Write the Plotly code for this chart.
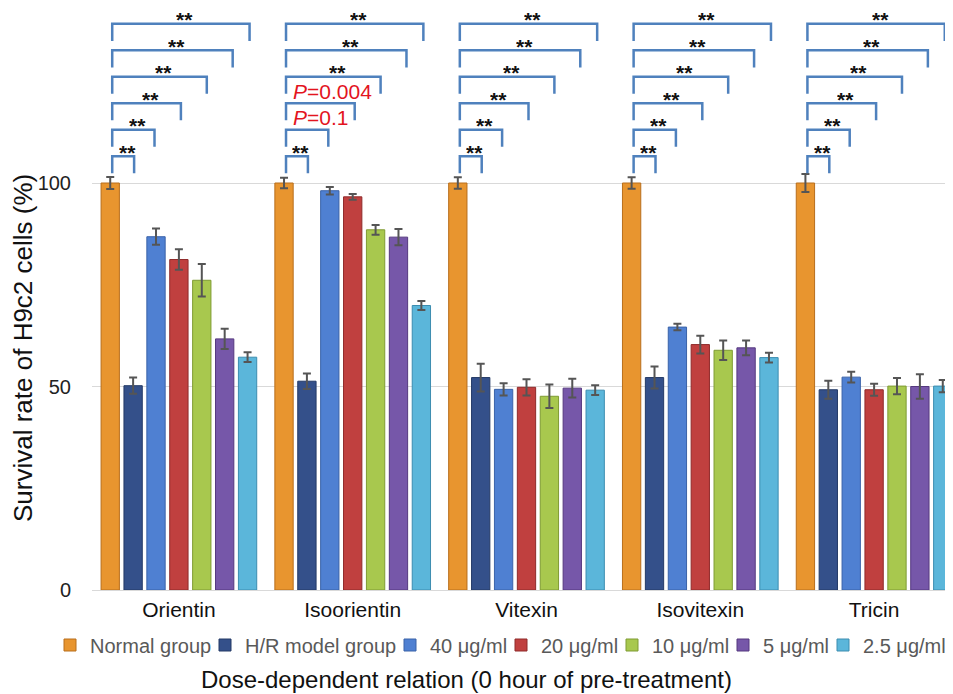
import plotly.graph_objects as go

# ---------------- data ----------------
categories = ["Orientin", "Isoorientin", "Vitexin", "Isovitexin", "Tricin"]
series_names = ["Normal group", "H/R model group", "40 μg/ml", "20 μg/ml",
                "10 μg/ml", "5 μg/ml", "2.5 μg/ml"]

normal = [100.0, 100.0, 100.0, 100.0, 100.0]
normal_err = [1.5, 1.3, 1.4, 1.4, 2.2]
model = [50.2, 51.3, 52.2, 52.2, 49.2]
model_err = [2.0, 1.9, 3.4, 2.7, 2.2]
dose40 = [86.8, 98.1, 49.3, 64.6, 52.3]
dose40_err = [2.0, 0.9, 1.5, 0.8, 1.3]
dose20 = [81.2, 96.6, 49.8, 60.3, 49.2]
dose20_err = [2.5, 0.7, 2.0, 2.2, 1.5]
dose10 = [76.1, 88.5, 47.6, 58.9, 50.1]
dose10_err = [4.0, 1.2, 2.9, 2.4, 2.0]
dose5 = [61.7, 86.7, 49.6, 59.5, 50.0]
dose5_err = [2.5, 2.0, 2.3, 1.8, 3.0]
dose2_5 = [57.2, 69.9, 49.1, 57.1, 50.1]
dose2_5_err = [1.2, 1.1, 1.2, 1.2, 1.5]

y_ticks = [0, 50, 100]

# significance of Normal group vs. each other group (model, 40, 20, 10, 5, 2.5)
sig_orientin = ["**", "**", "**", "**", "**", "**"]
sig_isoorientin = ["**", "P=0.1", "P=0.004", "**", "**", "**"]
sig_vitexin = ["**", "**", "**", "**", "**", "**"]
sig_isovitexin = ["**", "**", "**", "**", "**", "**"]
sig_tricin = ["**", "**", "**", "**", "**", "**"]

# ---------------- styles ----------------
values = [normal, model, dose40, dose20, dose10, dose5, dose2_5]
errors = [normal_err, model_err, dose40_err, dose20_err, dose10_err, dose5_err, dose2_5_err]
sig_all = [sig_orientin, sig_isoorientin, sig_vitexin, sig_isovitexin, sig_tricin]

fill_colors = ["#E8952F", "#34508A", "#4F80D2", "#C0403F", "#A8C84E", "#7657A9", "#5BB6DA"]
line_colors = ["#B86E1C", "#243A66", "#3A62A8", "#8F2A2A", "#7F9B33", "#55397F", "#3C8DB0"]

FONT = "Liberation Sans, Arial, sans-serif"
PAGE_OFF = 8  # browser body margin
W, H = 945, 686
ML, MR, MT, MB = 84, 0, 0, 104
BARGAP = 0.078
NSER = 7
X_RANGE = [-0.5, 4.454]
PX_Y = 4.07
plot_w = W - ML - MR
plot_h = H - MT - MB
Y_RANGE = [0, plot_h / PX_Y]
px_x = plot_w / (X_RANGE[1] - X_RANGE[0])


def paper_x(page_px):
    return (page_px - PAGE_OFF - ML) / plot_w


def paper_y(page_py):
    return (H - MB - (page_py - PAGE_OFF)) / plot_h


# legend symbol centres (page px) for each entry
legend_sym_x = [70, 225, 410, 521, 632, 743, 843]
legend_y = 645

fig = go.Figure()
legend_ids = ["legend"] + [f"legend{k}" for k in range(2, NSER + 1)]
for name, vals, errs, fc, lc, lid in zip(series_names, values, errors,
                                         fill_colors, line_colors, legend_ids):
    fig.add_trace(go.Bar(
        name=name, x=categories, y=vals, legend=lid,
        marker=dict(color=fc, line=dict(color=lc, width=1)),
        error_y=dict(type="data", array=errs, visible=True,
                     color="#555555", thickness=2, width=4),
    ))

# ---------------- significance brackets ----------------
slot = (1 - BARGAP) / NSER


def bar_center(i, j):
    return i + (j - (NSER - 1) / 2) * slot


LEVEL0, LEVEL_STEP, LEG = 106.6, 6.5, 4.2
right_nudge_px = [1, -1.5, 2, 5, 8, 2]
left_nudge_px = 2
bracket_color = "#4F81BD"

shapes = []
annotations = []
for i, sigs in enumerate(sig_all):
    xl = bar_center(i, 0) + left_nudge_px / px_x
    for k, lab in enumerate(sigs):
        yl = LEVEL0 + LEVEL_STEP * k
        xr = bar_center(i, k + 1) + right_nudge_px[k] / px_x
        shapes.append(dict(
            type="path", xref="x", yref="y",
            path=f"M {xl},{yl - LEG} L {xl},{yl} L {xr},{yl} L {xr},{yl - LEG}",
            line=dict(color=bracket_color, width=2.5),
        ))
        if lab.startswith("P="):
            annotations.append(dict(
                x=xl + 5 / px_x, y=yl, xref="x", yref="y",
                text="<i>P</i>" + lab[1:], showarrow=False,
                xanchor="left", yanchor="middle", yshift=12,
                font=dict(family=FONT, size=21, color="#E3141E"),
            ))
        else:
            annotations.append(dict(
                x=(xl + xr) / 2 + 4 / px_x, y=yl, xref="x", yref="y",
                text="<b>" + lab + "</b>", showarrow=False,
                xanchor="center", yanchor="middle", yshift=8,
                height=15, valign="top",
                font=dict(family=FONT, size=21, color="#111111"),
            ))

# axis titles
annotations.append(dict(
    x=paper_x(23), y=paper_y(348), xref="paper", yref="paper",
    text="Survival rate of H9c2 cells (%)", textangle=-90, showarrow=False,
    xanchor="center", yanchor="middle",
    font=dict(family=FONT, size=26, color="#111111"),
))
annotations.append(dict(
    x=paper_x(466), y=paper_y(680), xref="paper", yref="paper",
    text="Dose-dependent relation (0 hour of pre-treatment)", showarrow=False,
    xanchor="center", yanchor="middle",
    font=dict(family=FONT, size=24, color="#111111"),
))

legend_layouts = {}
for lid, sx in zip(legend_ids, legend_sym_x):
    legend_layouts[lid] = dict(
        orientation="h", x=paper_x(sx - 20), xanchor="left",
        y=paper_y(legend_y), yanchor="middle",
        font=dict(family=FONT, size=20, color="#595959"),
        itemwidth=30, bgcolor="rgba(0,0,0,0)", borderwidth=0,
    )

fig.update_layout(
    width=W, height=H,
    margin=dict(l=ML, r=MR, t=MT, b=MB, autoexpand=False),
    paper_bgcolor="white", plot_bgcolor="white",
    barmode="group", bargap=BARGAP, bargroupgap=0.2,
    font=dict(family=FONT),
    showlegend=True,
    xaxis=dict(
        range=X_RANGE, showgrid=False, showline=False,
        ticks="outside", ticklen=1, tickcolor="rgba(0,0,0,0)",
        tickfont=dict(family=FONT, size=21, color="#111111"),
    ),
    yaxis=dict(
        range=Y_RANGE, tickvals=y_ticks, ticktext=[str(v) for v in y_ticks],
        showgrid=True, gridcolor="#D9D9D9", gridwidth=1,
        zeroline=True, zerolinecolor="#D9D9D9", zerolinewidth=1,
        showline=False, ticks="outside", ticklen=16, tickcolor="rgba(0,0,0,0)",
        tickfont=dict(family=FONT, size=20, color="#222222"),
    ),
    shapes=shapes,
    annotations=annotations,
    **legend_layouts,
)

fig.write_html("out.html")
